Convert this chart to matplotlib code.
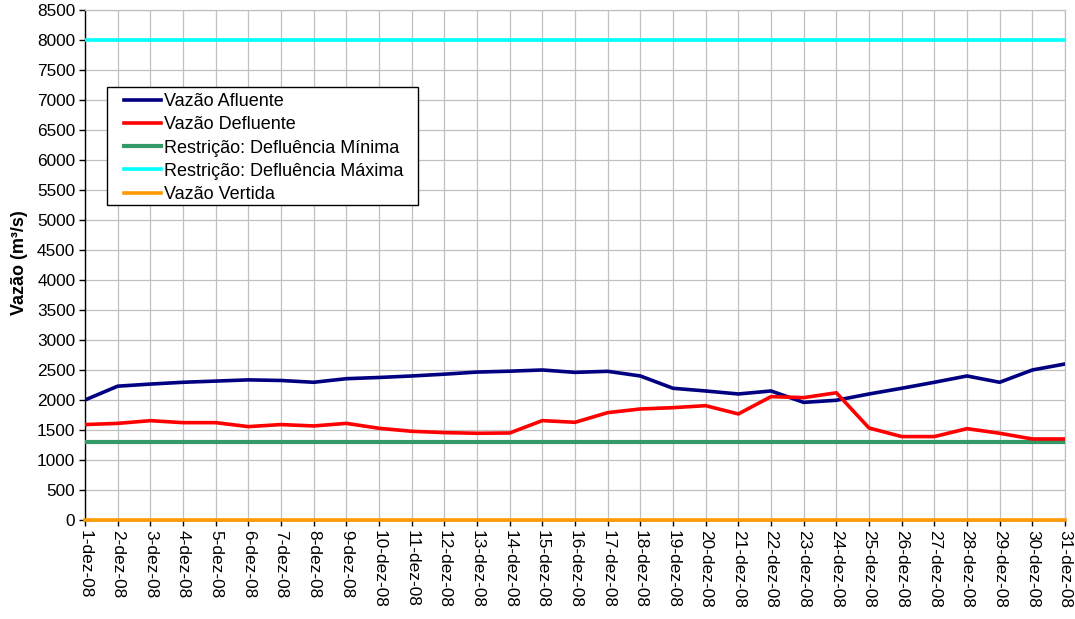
import matplotlib
matplotlib.use("Agg")
import matplotlib.pyplot as plt
from matplotlib.patches import Rectangle

plt.rcParams['font.family'] = ['Liberation Sans', 'DejaVu Sans']

days = list(range(1, 32))
day_labels = [f"{d}-dez-08" for d in days]

vazao_afluente = [2000, 2230, 2265, 2295, 2315, 2335, 2325, 2295, 2355, 2375,
                  2400, 2430, 2465, 2480, 2500, 2460, 2478, 2400, 2195, 2150,
                  2100, 2150, 1960, 1995, 2100, 2195, 2295, 2400, 2295, 2500,
                  2600]
vazao_defluente = [1590, 1610, 1655, 1622, 1622, 1556, 1590, 1567, 1610, 1528,
                   1478, 1456, 1445, 1450, 1656, 1628, 1789, 1850, 1872, 1905,
                   1767, 2056, 2039, 2120, 1533, 1390, 1390, 1522, 1445, 1350,
                   1350]
defluencia_minima = [1300] * 31
defluencia_maxima = [8000] * 31
vazao_vertida = [0] * 31

fig = plt.figure(figsize=(10.75, 6.19), dpi=100)
ax = fig.add_axes([0.0791, 0.16, 0.9116, 0.8238])

ax.plot(days, vazao_afluente, color='#000080', lw=2.6, label='Vazão Afluente', zorder=5)
ax.plot(days, vazao_defluente, color='#ff0000', lw=2.6, label='Vazão Defluente', zorder=5)
ax.plot(days, defluencia_minima, color='#339966', lw=3.0, label='Restrição: Defluência Mínima', zorder=4)
ax.plot(days, defluencia_maxima, color='#00ffff', lw=2.6, label='Restrição: Defluência Máxima', zorder=4)
ax.plot(days, vazao_vertida, color='#ff9900', lw=2.6, label='Vazão Vertida', zorder=6, clip_on=False)

ax.set_xlim(1, 31)
ax.set_ylim(0, 8500)
ax.set_yticks(range(0, 8501, 500))
ax.set_xticks(days)
ax.set_xticklabels(day_labels, rotation=270, fontsize=12.4, va='top', ha='center')
ax.tick_params(axis='y', labelsize=12.4, direction='out', length=4, width=1, pad=3)
ax.tick_params(axis='x', direction='out', length=4, width=1, pad=3)

ax.grid(True, color='#c0c0c0', lw=0.9)
ax.set_axisbelow(True)
for side in ('top', 'right'):
    ax.spines[side].set_color('#c0c0c0')
    ax.spines[side].set_linewidth(0.9)
for side in ('left', 'bottom'):
    ax.spines[side].set_color('black')
    ax.spines[side].set_linewidth(1.0)

ax.set_ylabel('Vazão (m³/s)', fontsize=13, fontweight='bold')
ax.yaxis.set_label_coords(-0.0582, 0.504)

# legend box drawn separately so the padding can differ horizontally/vertically
ax.add_patch(Rectangle((0.02245, 0.6176), 0.3174, 0.2314, transform=ax.transAxes,
                       facecolor='white', edgecolor='black', lw=1.0, zorder=7))
leg = ax.legend(loc='upper left', bbox_to_anchor=(0.0395, 0.8366), fontsize=13,
                frameon=False, handlelength=2.05, handletextpad=0.2,
                labelspacing=0.34, borderpad=0, borderaxespad=0)
leg.set_zorder(8)

fig.savefig('out.png', dpi=100)
